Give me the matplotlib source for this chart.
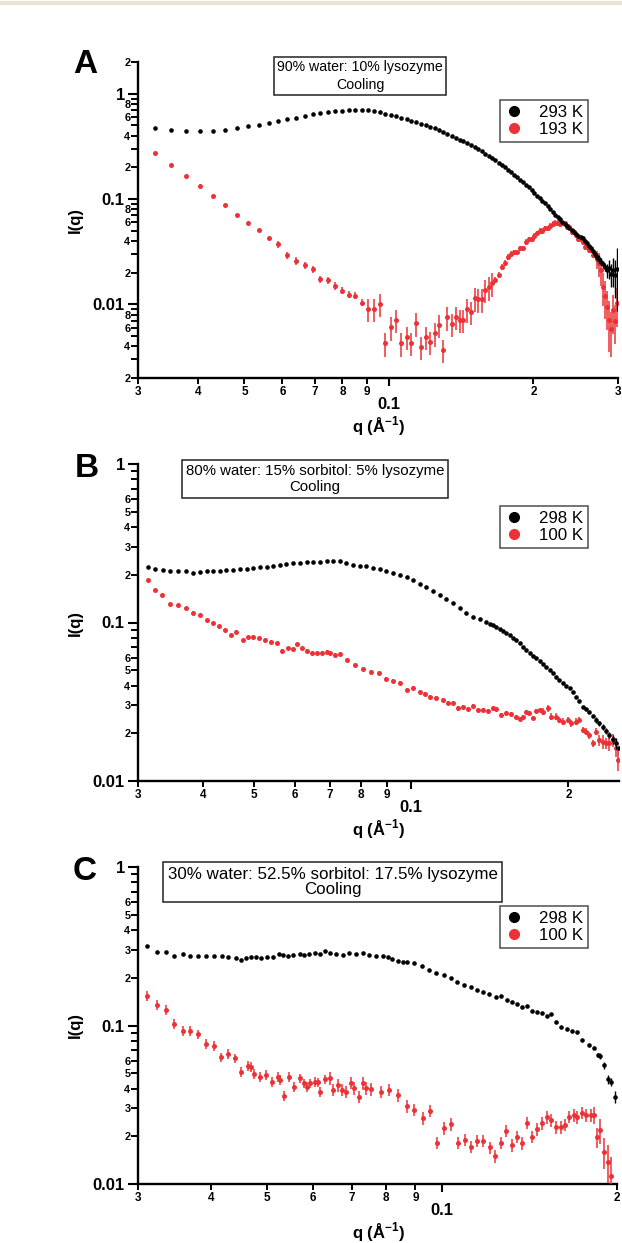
import numpy as np
import matplotlib
matplotlib.use("Agg")
import matplotlib.pyplot as plt
from matplotlib.ticker import FixedLocator, FixedFormatter
from matplotlib.lines import Line2D

plt.rcParams["font.family"] = ["Liberation Sans", "DejaVu Sans"]
plt.rcParams["mathtext.fontset"] = "custom"
plt.rcParams["mathtext.rm"] = "Liberation Sans"
plt.rcParams["mathtext.bf"] = "Liberation Sans:bold"

RED = "#ec3237"

# ---------------- Panel A: 90% water / 10% lysozyme ----------------
q_a = [0.0325, 0.0351, 0.0377, 0.0404, 0.0430, 0.0456, 0.0483, 0.0509, 0.0535, 0.0562,
       0.0588, 0.0614, 0.0640, 0.0667, 0.0693, 0.0719, 0.0746, 0.0772, 0.0798, 0.0825,
       0.0851, 0.0877, 0.0903, 0.0930, 0.0956, 0.0982, 0.1009, 0.1035, 0.1061, 0.1088,
       0.1114, 0.1140, 0.1166, 0.1193, 0.1219, 0.1245, 0.1272, 0.1298, 0.1324, 0.1351,
       0.1377, 0.1403, 0.1429, 0.1456, 0.1482, 0.1508, 0.1535, 0.1561, 0.1587, 0.1614,
       0.1640, 0.1666, 0.1692, 0.1719, 0.1745, 0.1771, 0.1798, 0.1824, 0.1850, 0.1877,
       0.1903, 0.1929, 0.1955, 0.1982, 0.2008, 0.2034, 0.2061, 0.2087, 0.2113, 0.2140,
       0.2166, 0.2192, 0.2218, 0.2245, 0.2271, 0.2297, 0.2324, 0.2350, 0.2376, 0.2403,
       0.2429, 0.2455, 0.2481, 0.2508, 0.2534, 0.2560, 0.2587, 0.2613, 0.2639, 0.2666,
       0.2692, 0.2718, 0.2744, 0.2771, 0.2797, 0.2823, 0.2850, 0.2876, 0.2902, 0.2929,
       0.2955, 0.2981]
i_a_293 = [0.475, 0.452, 0.442, 0.442, 0.446, 0.455, 0.475, 0.493, 0.508, 0.527,
           0.551, 0.571, 0.592, 0.614, 0.637, 0.656, 0.675, 0.685, 0.689, 0.695,
           0.695, 0.695, 0.695, 0.689, 0.675,
           0.648, 0.630, 0.610, 0.592, 0.574, 0.556, 0.539, 0.521, 0.502, 0.486,
           0.470, 0.452, 0.434, 0.416, 0.398, 0.382, 0.367, 0.352, 0.338, 0.323,
           0.310, 0.296, 0.283, 0.270, 0.257, 0.245, 0.233, 0.222, 0.210, 0.200,
           0.190, 0.180, 0.170, 0.162, 0.152, 0.144, 0.136, 0.129, 0.122, 0.115,
           0.108, 0.102, 0.0965, 0.091, 0.086, 0.081, 0.076, 0.071, 0.068, 0.064,
           0.061, 0.058, 0.056, 0.053, 0.051, 0.049, 0.047, 0.045, 0.044, 0.0425,
           0.040, 0.038, 0.036, 0.034, 0.032, 0.030, 0.028, 0.027, 0.0255, 0.024,
           0.0225, 0.021, 0.022, 0.0195, 0.021, 0.019, 0.0215]
i_a_193 = [0.275, 0.210, 0.164, 0.132, 0.107, 0.0883, 0.070, 0.0596, 0.051, 0.0423,
           0.0371, 0.0292, 0.0259, 0.0236, 0.0215, 0.0173, 0.0170, 0.0150, 0.0135, 0.0124,
           0.0121, 0.0104,
           0.0090, 0.0090, 0.0101, 0.00426, 0.00605, 0.0071, 0.00426, 0.00492, 0.00432, 0.0066,
           0.00395, 0.00492, 0.00442, 0.0053, 0.00636, 0.00368, 0.00753, 0.0065, 0.00762, 0.0071,
           0.0071, 0.00896, 0.00851, 0.0114, 0.01115, 0.01115, 0.01368, 0.0145, 0.0158, 0.017,
           0.019, 0.02275, 0.0248, 0.0283, 0.030, 0.0312, 0.0312, 0.034, 0.034, 0.0393,
           0.0414, 0.0414, 0.0446, 0.0472, 0.0497, 0.0497, 0.0527, 0.0527, 0.0554, 0.058,
           0.0596, 0.0596, 0.058, 0.0588, 0.0588, 0.0546, 0.0546, 0.0489, 0.0489, 0.0455,
           0.0414, 0.0414, 0.0393, 0.0352, 0.0352, 0.0328, 0.0328, 0.0294, 0.0294, 0.0270,
           0.0245, 0.0212, 0.0147, 0.012, 0.0095, 0.0071, 0.0058, 0.0088, 0.0070, 0.0102]
# relative error bar sizes
err_a_293 = [0.0] * 90 + [0.08] * 6 + [0.15, 0.2, 0.25, 0.3, 0.4, 0.6]
err_a_193 = ([0.0] * 10 + [0.08] * 12 + [0.25] * 29 + [0.06] * 40
             + [0.2, 0.25, 0.3, 0.35, 0.4, 0.4, 0.5, 0.45, 0.4, 0.4, 0.4])

# ---------------- Panel B: 80% water / 15% sorbitol / 5% lysozyme ----------------
q_b_298 = [0.0313, 0.0323, 0.0335, 0.0346, 0.0358, 0.0371, 0.0383, 0.0394, 0.0406, 0.0418,
           0.0430, 0.0443, 0.0456, 0.0470, 0.0484, 0.0498, 0.0513, 0.0529, 0.0544, 0.0561,
           0.0577, 0.0594, 0.0612, 0.0631, 0.0649, 0.0669, 0.0689, 0.0709, 0.0730, 0.0752,
           0.0774, 0.0797, 0.0821, 0.0845, 0.0871, 0.0896, 0.0923, 0.0951, 0.0980, 0.1008,
           0.1039, 0.1070, 0.1101, 0.1134, 0.1168, 0.1202, 0.1238, 0.1275, 0.1313, 0.1352,
           0.1393, 0.1414, 0.1435, 0.1455, 0.1477, 0.1499, 0.1521, 0.1544, 0.1566, 0.1589,
           0.1613, 0.1637, 0.1661, 0.1686, 0.1711, 0.1736, 0.1762, 0.1788, 0.1814, 0.1841,
           0.1868, 0.1895, 0.1923, 0.1951, 0.1980, 0.2010, 0.2040, 0.2070, 0.2100, 0.2131,
           0.2163, 0.2194, 0.2227, 0.2260, 0.2293, 0.2327, 0.2362, 0.2396, 0.2432, 0.2468,
           0.2497]
i_b_298 = [0.223, 0.2175, 0.2144, 0.2122, 0.2122, 0.2104, 0.2062, 0.2092, 0.2104, 0.2113,
           0.2122, 0.2135, 0.2144, 0.2167, 0.2175, 0.2198, 0.223, 0.2249, 0.2282, 0.2316,
           0.2339, 0.2363, 0.2384, 0.2408, 0.2396, 0.2418, 0.2432, 0.2432, 0.2443, 0.2363,
           0.2306, 0.2282, 0.2256, 0.2223, 0.2175, 0.2128, 0.2067, 0.2008, 0.1936, 0.1853,
           0.1762, 0.1675, 0.158, 0.149, 0.1407, 0.1318, 0.1235, 0.1156, 0.1091, 0.1052,
           0.1012, 0.0985, 0.0962, 0.0941, 0.0912, 0.0884, 0.0855, 0.0828, 0.0800, 0.0775,
           0.0740, 0.0705, 0.0671, 0.0645, 0.0618, 0.0594, 0.0570, 0.0548, 0.0526, 0.0500,
           0.0478, 0.0455, 0.0432, 0.0413, 0.0400, 0.0385, 0.0362, 0.0340, 0.0318, 0.0294,
           0.0285, 0.0274, 0.0258, 0.0243, 0.0231, 0.0220, 0.0207, 0.0195, 0.0183, 0.0173,
           0.0161]
err_b_298 = [0.0] * 83 + [0.04] * 5 + [0.06, 0.08, 0.1]

q_b_100 = [0.0313, 0.0323, 0.0334, 0.0346, 0.0358, 0.0371, 0.0383, 0.0394, 0.0406, 0.0418,
           0.0429, 0.0440, 0.0452, 0.0463, 0.0476, 0.0488, 0.0499, 0.0512, 0.0525, 0.0538,
           0.0553, 0.0567, 0.0582, 0.0595, 0.0605, 0.0617, 0.0631, 0.0645, 0.0659, 0.0674,
           0.0689, 0.0699, 0.0714, 0.0730, 0.0754, 0.0780, 0.0809, 0.0839, 0.0868, 0.0897,
           0.0923, 0.0951, 0.0982, 0.1008, 0.1038, 0.1061, 0.1085, 0.1118, 0.1151, 0.1176,
           0.1202, 0.1229, 0.1256, 0.1284, 0.1313, 0.1342, 0.1372, 0.1403, 0.1434, 0.1455,
           0.1488, 0.1521, 0.1555, 0.1589, 0.1613, 0.1636, 0.1661, 0.1685, 0.1710, 0.1736,
           0.1761, 0.1787, 0.1827, 0.1854, 0.1895, 0.1923, 0.1951, 0.1995, 0.2025, 0.2070,
           0.2100, 0.2131, 0.2163, 0.2195, 0.2227, 0.2260, 0.2294, 0.2327, 0.2362, 0.2397,
           0.2432, 0.2468, 0.2486]
i_b_100 = [0.1853, 0.1603, 0.1491, 0.1302, 0.1289, 0.1229, 0.1153, 0.1115, 0.1037, 0.0993,
           0.0950, 0.0897, 0.0834, 0.0875, 0.0775, 0.0806, 0.0813, 0.0795, 0.0775, 0.0756,
           0.0739, 0.0664, 0.0687, 0.0677, 0.0732, 0.0687, 0.0664, 0.0639, 0.0639, 0.0645,
           0.0654, 0.0639, 0.0624, 0.0630, 0.0580, 0.0539, 0.0507, 0.0489, 0.0482, 0.0438,
           0.0429, 0.0417, 0.0375, 0.0385, 0.0366, 0.0354, 0.0337, 0.0332, 0.0324, 0.0312,
           0.0309, 0.0287, 0.0292, 0.0283, 0.0297, 0.0280, 0.0280, 0.0278, 0.0287, 0.0283,
           0.0261, 0.0267, 0.0265, 0.0254, 0.0245, 0.0254, 0.0274, 0.0270, 0.0249, 0.0278,
           0.0280, 0.0274, 0.0287, 0.0254, 0.0254, 0.0243, 0.0237, 0.0243, 0.0231, 0.0237,
           0.0243, 0.0210, 0.0205, 0.0195, 0.0173, 0.0205, 0.0181, 0.0177, 0.0174, 0.0173,
           0.0181, 0.0161, 0.0136]
err_b_100 = [0.02] * 31 + [0.03] * 40 + [0.05] * 15 + [0.08, 0.1, 0.08, 0.1, 0.1, 0.12, 0.15]

# ---------------- Panel C: 30% water / 52.5% sorbitol / 17.5% lysozyme ----------------
q_c_298 = [0.0311, 0.0323, 0.0335, 0.0346, 0.0358, 0.0369, 0.0381, 0.0393, 0.0405, 0.0418,
           0.0429, 0.0442, 0.0452, 0.0461, 0.0470, 0.0479, 0.0489, 0.0500, 0.0512, 0.0524,
           0.0533, 0.0543, 0.0554, 0.0569, 0.0580, 0.0590, 0.0604, 0.0616, 0.0628,
           0.0641, 0.0658, 0.0675, 0.0693, 0.0712, 0.0730, 0.0750, 0.0770, 0.0791, 0.0806,
           0.0822, 0.0839, 0.0856, 0.0869, 0.0896, 0.0924, 0.0951, 0.0978, 0.1009, 0.1036,
           0.1063, 0.1092, 0.1121, 0.1150, 0.1177, 0.1205, 0.1237, 0.1262, 0.1295, 0.1321,
           0.1347, 0.1374, 0.1402, 0.1430, 0.1458, 0.1487, 0.1517, 0.1537, 0.1568, 0.1599,
           0.1642, 0.1674, 0.1708,
           0.1742, 0.1788, 0.1824, 0.1855, 0.1873, 0.1898, 0.1930, 0.1956, 0.1982]
i_c_298 = [0.3174, 0.2921, 0.2908, 0.2745, 0.2826, 0.2745, 0.2745, 0.2745, 0.2745, 0.2745,
           0.2717, 0.2655, 0.2590, 0.2655, 0.2693, 0.2717, 0.2677, 0.2717, 0.2717, 0.2826,
           0.2785, 0.2757, 0.2785, 0.2813, 0.2772, 0.2826, 0.2854, 0.2826, 0.2951,
           0.2854, 0.2826, 0.2785, 0.2854, 0.2826, 0.2854, 0.2785, 0.2745, 0.2745, 0.2693,
           0.2616, 0.2563, 0.2526, 0.2526, 0.2468, 0.2373, 0.2240, 0.2154, 0.2083, 0.2003,
           0.1889, 0.1801, 0.1757, 0.1675, 0.1634, 0.1580, 0.1519, 0.1535, 0.1448, 0.1413,
           0.1367, 0.1314, 0.1333, 0.1240, 0.1211, 0.1194, 0.1148, 0.1182, 0.1057, 0.0974,
           0.0946, 0.0927, 0.0914,
           0.0810, 0.0753, 0.0718, 0.0652, 0.0642, 0.0563, 0.0458, 0.0442, 0.0355]
err_c_298 = [0.0] * 75 + [0.03, 0.04, 0.05, 0.06, 0.06, 0.08]

q_c_100 = [0.0311, 0.0323, 0.0335, 0.0346, 0.0358, 0.0369, 0.0381, 0.0393, 0.0405, 0.0417,
           0.0429, 0.0440, 0.0452, 0.0464, 0.0470, 0.0475, 0.0487, 0.0499, 0.0511, 0.0522,
           0.0527, 0.0534, 0.0545, 0.0556, 0.0569, 0.0580, 0.0585, 0.0593, 0.0604, 0.0612,
           0.0616, 0.0628, 0.0641, 0.0649, 0.0662, 0.0673, 0.0684, 0.0698, 0.0707, 0.0721,
           0.0730, 0.0740, 0.0755, 0.0785, 0.0812, 0.0839, 0.0869, 0.0896, 0.0926, 0.0953,
           0.0982, 0.1009, 0.1038, 0.1067, 0.1096, 0.1121, 0.1150, 0.1178, 0.1208, 0.1234,
           0.1262, 0.1290, 0.1318, 0.1347, 0.1374, 0.1402, 0.1430, 0.1458, 0.1487, 0.1517,
           0.1543, 0.1572, 0.1599, 0.1627, 0.1657, 0.1685, 0.1708, 0.1738, 0.1770, 0.1801,
           0.1824, 0.1848, 0.1873, 0.1898, 0.1930, 0.1956]
i_c_100 = [0.1542, 0.1347, 0.1253, 0.1022, 0.0927, 0.0927, 0.0880, 0.0764, 0.0746, 0.0630,
           0.0661, 0.0621, 0.0511, 0.0555, 0.0550, 0.0494, 0.0475, 0.0490, 0.0442, 0.0475,
           0.0453, 0.0359, 0.0475, 0.0411, 0.0464, 0.0432, 0.0411, 0.0432, 0.0442, 0.0438,
           0.0382, 0.0458, 0.0464, 0.0392, 0.0421, 0.0392, 0.0382, 0.0436, 0.0402, 0.0355,
           0.0432, 0.0402, 0.0396, 0.0382, 0.0392, 0.0364, 0.0310, 0.0293, 0.0260, 0.0289,
           0.0182, 0.0225, 0.0239, 0.0182, 0.0190, 0.0172, 0.0188, 0.0188, 0.0170, 0.0150,
           0.0182, 0.0217, 0.0176, 0.0199, 0.0181, 0.0244, 0.0199, 0.0221, 0.0242, 0.0264,
           0.0253, 0.0228, 0.0228, 0.0236, 0.0266, 0.0272, 0.0264, 0.0282, 0.0272, 0.0272,
           0.0272, 0.0197, 0.0219, 0.0160, 0.0138, 0.0112]
err_c_100 = [0.07] * 32 + [0.09] * 48 + [0.12, 0.14, 0.18, 0.22, 0.27, 0.32]

W, H = 622, 1243
fig = plt.figure(figsize=(W / 100, H / 100), dpi=100)

# pale rule at the very top of the page
fig.add_artist(Line2D([0, 1], [1 - 3 / H, 1 - 3 / H], color="#ece2cf", lw=3))

XMINOR = [0.03, 0.04, 0.05, 0.06, 0.07, 0.08, 0.09, 0.2, 0.3]
XMINOR_LAB = ["3", "4", "5", "6", "7", "8", "9", "2", "3"]


def panel(box, xlim, ylim, y_major, y_minor, y_minor_lab,
          qk, ik, ek, qr, ir, er, labels, title, title_fs, title_ls, title_xy,
          letter, letter_xy, leg_anchor):
    left, top, right, bottom = box
    ax = fig.add_axes([left / W, 1 - bottom / H, (right - left) / W, (bottom - top) / H])
    ax.set_xscale("log")
    ax.set_yscale("log")

    ir = np.array(ir)
    ik = np.array(ik)
    ax.errorbar(qr, ir, yerr=ir * np.array(er), fmt="o", ms=3.6, mew=0,
                color=RED, ecolor=RED, elinewidth=1.1, capsize=0, zorder=3)
    ax.errorbar(qk, ik, yerr=ik * np.array(ek), fmt="o", ms=3.3, mew=0,
                color="black", ecolor="black", elinewidth=1.0, capsize=0, zorder=4)

    ax.set_xlim(*xlim)
    ax.set_ylim(*ylim)

    nx = [i for i, v in enumerate(XMINOR) if v <= xlim[1] * 1.001]
    ax.xaxis.set_major_locator(FixedLocator([0.1]))
    ax.xaxis.set_major_formatter(FixedFormatter(["0.1"]))
    ax.xaxis.set_minor_locator(FixedLocator([XMINOR[i] for i in nx]))
    ax.xaxis.set_minor_formatter(FixedFormatter([XMINOR_LAB[i] for i in nx]))

    ax.yaxis.set_major_locator(FixedLocator(y_major))
    ax.yaxis.set_major_formatter(FixedFormatter([f"{v:g}" for v in y_major]))
    ax.yaxis.set_minor_locator(FixedLocator(y_minor))
    ax.yaxis.set_minor_formatter(FixedFormatter(y_minor_lab))

    ax.tick_params(axis="x", which="major", length=5.5, width=1.5, labelsize=12, pad=8)
    ax.tick_params(axis="x", which="minor", length=4.5, width=1.4, labelsize=8.5, pad=1)
    ax.tick_params(axis="y", which="major", length=7.5, width=1.5, labelsize=12, pad=2)
    ax.tick_params(axis="y", which="minor", length=5, width=1.4, labelsize=7.8, pad=0.5)
    for lab in ax.get_xticklabels(which="both") + ax.get_yticklabels(which="both"):
        lab.set_fontweight("bold")

    for s in ("top", "right"):
        ax.spines[s].set_visible(False)
    for s in ("left", "bottom"):
        ax.spines[s].set_linewidth(1.7)

    cy = (top + bottom) / 2
    fig.text(75.5 / W, 1 - cy / H, "I(q)", rotation=90, ha="center", va="center",
             fontsize=12, fontweight="bold")
    fig.text(379 / W, 1 - (bottom + 48) / H, r"q (Å$^{\mathbf{-1}}$)", ha="center",
             va="center", fontsize=12, fontweight="bold")
    fig.text(letter_xy[0] / W, 1 - letter_xy[1] / H, letter, ha="center",
             va="baseline", fontsize=24, fontweight="bold")

    fig.text(title_xy[0] / W, 1 - title_xy[1] / H, title, ha="center", va="center",
             multialignment="center", fontsize=title_fs, linespacing=title_ls,
             bbox=dict(boxstyle="square,pad=0.25", fc="white", ec="#222222", lw=1.1))

    handles = [Line2D([], [], ls="none", marker="o", ms=8, mew=0, color="black"),
               Line2D([], [], ls="none", marker="o", ms=8, mew=0, color=RED)]
    leg = ax.legend(handles, labels, loc="upper right", bbox_to_anchor=leg_anchor,
                    borderaxespad=0, fontsize=12.2, frameon=True, fancybox=False,
                    edgecolor="#222222", borderpad=0.3, handlelength=1.0,
                    handletextpad=1.0, labelspacing=0.12)
    leg.get_frame().set_linewidth(1.1)
    return ax


def decade_ticks(decades, mults):
    return [m * d for d in decades for m in mults]


ya_minor = decade_ticks((0.001, 0.01, 0.1), range(2, 10)) + [2]
ya_lab = ["2", "", "4", "", "6", "", "8", ""] * 3 + ["2"]
yb_minor = decade_ticks((0.01, 0.1), range(2, 10))
yb_lab = ["2", "3", "4", "5", "6", "", "", ""] * 2

panel((138, 62, 618, 378), (0.03, 0.3), (0.002, 2), [0.01, 0.1, 1], ya_minor, ya_lab,
      q_a, i_a_293, err_a_293, q_a, i_a_193, err_a_193, ["293 K", "193 K"],
      "90% water: 10% lysozyme\nCooling", 10.2, 1.3, (360, 76), "A", (85.5, 73),
      (0.938, 0.880))

panel((138, 464, 619, 781), (0.03, 0.25), (0.01, 1), [0.01, 0.1, 1], yb_minor, yb_lab,
      q_b_298, i_b_298, err_b_298, q_b_100, i_b_100, err_b_100, ["298 K", "100 K"],
      "80% water: 15% sorbitol: 5% lysozyme\nCooling", 10.8, 1.25, (315, 479), "B",
      (86.5, 477), (0.936, 0.868))

panel((138, 867, 617, 1184), (0.03, 0.2), (0.01, 1), [0.01, 0.1, 1], yb_minor, yb_lab,
      q_c_298, i_c_298, err_c_298, q_c_100, i_c_100, err_c_100, ["298 K", "100 K"],
      "30% water: 52.5% sorbitol: 17.5% lysozyme\nCooling", 12.2, 1.05, (332.5, 882), "C",
      (85, 880), (0.940, 0.878))

fig.savefig("out.png", dpi=100)
